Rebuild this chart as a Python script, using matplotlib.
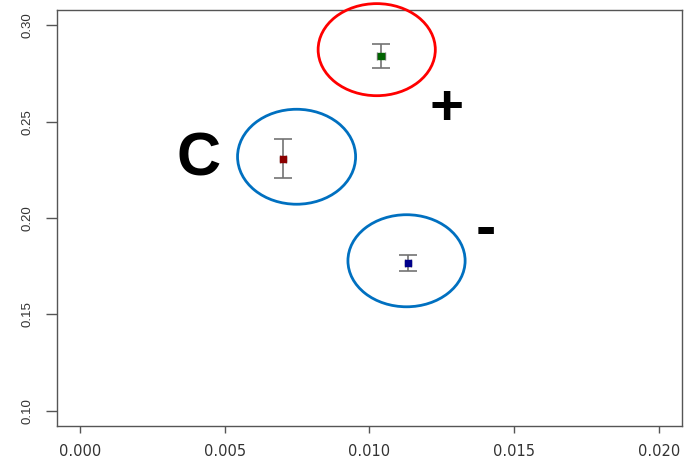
import matplotlib
matplotlib.use("Agg")
import matplotlib.pyplot as plt
from matplotlib.patches import Ellipse

# group means with their uncertainties
x_vals = [0.00701, 0.01041, 0.01133]
y_vals = [0.2308, 0.2843, 0.1768]
y_lo = [0.2208, 0.2780, 0.1723]
y_hi = [0.2410, 0.2905, 0.1808]
x_err = [0.00012, 0.00014, 0.00012]
point_colors = ["#8b0000", "#006400", "#00008b"]

# highlight rings and their labels
ring_x = [0.01025, 0.00748, 0.01128]
ring_y = [0.2874, 0.2318, 0.1778]
ring_w = [0.00405, 0.00408, 0.00405]
ring_h = [0.0478, 0.0493, 0.0478]
ring_colors = ["#ff0000", "#0070c0", "#0070c0"]
tag_text = ["C", "+", "-"]
tag_x = [0.0041, 0.01267, 0.01402]
tag_y = [0.2300, 0.2560, 0.1935]
tag_size = [44, 42, 44]

x_ticks = [0.000, 0.005, 0.010, 0.015, 0.020]
y_ticks = [0.10, 0.15, 0.20, 0.25, 0.30]

plt.rcParams["font.family"] = ["Liberation Sans", "DejaVu Sans"]

fig = plt.figure(figsize=(6.85, 4.62), dpi=100)
ax = fig.add_axes([0.0832, 0.0779, 0.9124, 0.9005])

for i in range(len(x_vals)):
    ax.errorbar(x_vals[i], y_vals[i],
                yerr=[[y_vals[i] - y_lo[i]], [y_hi[i] - y_vals[i]]],
                fmt="none", ecolor="#737373", elinewidth=1.2,
                capsize=6.5, capthick=1.2, zorder=2)
    ax.errorbar(x_vals[i], y_vals[i], xerr=x_err[i],
                fmt="none", ecolor="#737373", elinewidth=1.0,
                capsize=3, capthick=1.0, zorder=2)
    ax.plot(x_vals[i], y_vals[i], "s", color=point_colors[i],
            markersize=5, zorder=3)

for cx, cy, w, h, c in zip(ring_x, ring_y, ring_w, ring_h, ring_colors):
    ax.add_patch(Ellipse((cx, cy), w, h, fill=False, edgecolor=c,
                         linewidth=2.0, clip_on=False, zorder=4))

for t, tx, ty, fs in zip(tag_text, tag_x, tag_y, tag_size):
    ax.text(tx, ty, t, fontsize=fs, fontweight="bold", color="black",
            ha="center", va="center", zorder=5)

ax.set_xlim(-0.0008, 0.0208)
ax.set_ylim(0.092, 0.308)
ax.set_xticks(x_ticks)
ax.set_xticklabels(["%.3f" % v for v in x_ticks], family="DejaVu Sans",
                   fontsize=10.5)
ax.set_yticks(y_ticks)
ax.set_yticklabels(["%.2f" % v for v in y_ticks], rotation=90, va="center",
                   fontsize=9.5)
ax.tick_params(colors="#555555", labelcolor="#333333", width=1.0)
ax.tick_params(axis="x", length=5, pad=8)
ax.tick_params(axis="y", length=8, pad=9)

for s in ax.spines.values():
    s.set_color("#555555")
    s.set_linewidth(1.0)

fig.savefig("out.png", dpi=100)
